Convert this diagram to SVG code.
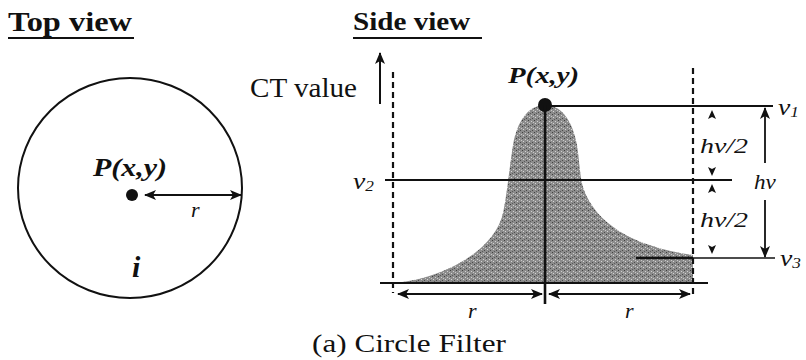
<svg xmlns="http://www.w3.org/2000/svg" width="806" height="360" viewBox="0 0 806 360">
<style>
  .t { font-family: "Liberation Serif", "Times New Roman", serif; fill: #111; }
  .b { font-weight: bold; }
  .i { font-style: italic; }
  .ln { stroke: #111; fill: none; }
  .dash { stroke: #111; stroke-width: 2.2; stroke-dasharray: 6 4; fill: none; }
  .sh { fill: #111; }
</style>
<defs>
  <marker id="ah" viewBox="0 0 12 10" refX="11" refY="5" markerWidth="12" markerHeight="10" markerUnits="userSpaceOnUse" orient="auto-start-reverse">
    <path d="M0,0 L12,5 L0,10 L3,5 Z" fill="#111"/>
  </marker>
  <pattern id="stip" width="6" height="6" patternUnits="userSpaceOnUse">
    <rect width="6" height="6" fill="#8c8c8c"/>
    <rect x="0" y="0" width="1" height="1" fill="#404040"/>
    <rect x="3" y="1" width="1" height="1" fill="#d0d0d0"/>
    <rect x="1" y="3" width="1" height="1" fill="#d6d6d6"/>
    <rect x="4" y="4" width="1" height="1" fill="#4a4a4a"/>
    <rect x="2" y="5" width="1" height="1" fill="#5a5a5a"/>
    <rect x="5" y="2" width="1" height="1" fill="#c8c8c8"/>
  </pattern>
</defs>

<g id="top-view">
  <text class="t b" font-size="27" transform="translate(8,31) scale(1.2,1)">Top view</text>
  <line class="ln" x1="8" y1="38" x2="134" y2="38" stroke-width="2"/>
  <ellipse cx="130" cy="188" rx="112" ry="110" class="ln" stroke-width="2"/>
  <circle cx="132" cy="195" r="6" fill="#111"/>
  <text class="t b i" font-size="25" transform="translate(93,176) scale(1.2,1)">P(x,y)</text>
  <text class="t i" font-size="20" transform="translate(191,217) scale(1.1,1)">r</text>
  <text class="t b i" font-size="30" x="132" y="277">i</text>
</g>

<g id="side-view">
  <text class="t b" font-size="26" transform="translate(353,30) scale(1.12,1)">Side view</text>
  <line class="ln" x1="353" y1="38" x2="482" y2="38" stroke-width="2"/>
  <text class="t" font-size="28" transform="translate(250,97) scale(1.04,1)">CT value</text>
  <path id="profile" d="M395,283 C445,278 495,250 503,213 C507,195 509,170 513,145 C518,118 530,105 545,105 C560,105 572,118 577,145 C580,165 580,180 584,190 C596,222 630,246 693,255 L693,283 Z" fill="url(#stip)"/>
  <circle cx="545" cy="105" r="7" fill="#111"/>
  <text class="t b i" font-size="24" transform="translate(508,83) scale(1.2,1)">P(x,y)</text>
  <text class="t i" font-size="24" transform="translate(353,189) scale(1.15,1)">v<tspan font-size="15" dy="2">2</tspan></text>
  <text class="t i" font-size="24" transform="translate(778,115) scale(1.15,1)">v<tspan font-size="15" dy="2">1</tspan></text>
  <text class="t i" font-size="24" transform="translate(780,266) scale(1.15,1)">v<tspan font-size="15" dy="2">3</tspan></text>
  <text class="t i" font-size="22" transform="translate(700,153) scale(1.27,1)">hv/2</text>
  <text class="t i" font-size="22" transform="translate(700,227) scale(1.27,1)">hv/2</text>
  <text class="t i" font-size="22" transform="translate(754,189) scale(1.05,1)">hv</text>
  <text class="t i" font-size="20" transform="translate(468,318) scale(1.1,1)">r</text>
  <text class="t i" font-size="20" transform="translate(625,318) scale(1.1,1)">r</text>
  <text class="t" font-size="26" transform="translate(312,352) scale(1.2,1)">(a) Circle Filter</text>
</g>

<g id="connectors">
  <line class="ln" x1="145" y1="195" x2="241" y2="195" stroke-width="2.2" marker-start="url(#ah)" marker-end="url(#ah)"/>
  <line class="ln" x1="380" y1="104" x2="380" y2="53" stroke-width="2" marker-end="url(#ah)"/>
  <line class="dash" x1="393" y1="72" x2="393" y2="293"/>
  <line class="dash" x1="693" y1="68" x2="693" y2="298"/>
  <line class="ln" x1="545" y1="106" x2="773" y2="106" stroke-width="1.8"/>
  <line class="ln" x1="385" y1="180" x2="732" y2="180" stroke-width="1.8"/>
  <line class="ln" x1="636" y1="258" x2="693" y2="258" stroke-width="2.6"/>
  <line class="ln" x1="693" y1="258" x2="775" y2="258" stroke-width="1.5"/>
  <line class="ln" x1="380" y1="283" x2="708" y2="283" stroke-width="2"/>
  <line class="ln" x1="545" y1="105" x2="545" y2="304" stroke-width="2.6"/>
  <line class="ln" x1="398" y1="294" x2="542" y2="294" stroke-width="1.8" marker-start="url(#ah)" marker-end="url(#ah)"/>
  <line class="ln" x1="549" y1="294" x2="690" y2="294" stroke-width="1.8" marker-start="url(#ah)" marker-end="url(#ah)"/>
  <line class="ln" x1="765" y1="163" x2="765" y2="108" stroke-width="1.8" marker-end="url(#ah)"/>
  <line class="ln" x1="765" y1="200" x2="765" y2="257" stroke-width="1.8" marker-end="url(#ah)"/>
  <path class="sh" d="M712,110 L716,119 L712,117 L708,119 Z"/>
  <path class="sh" d="M712,176 L716,167 L712,169 L708,167 Z"/>
  <path class="sh" d="M712,184 L716,193 L712,191 L708,193 Z"/>
  <path class="sh" d="M712,254 L716,245 L712,247 L708,245 Z"/>
</g>
</svg>
